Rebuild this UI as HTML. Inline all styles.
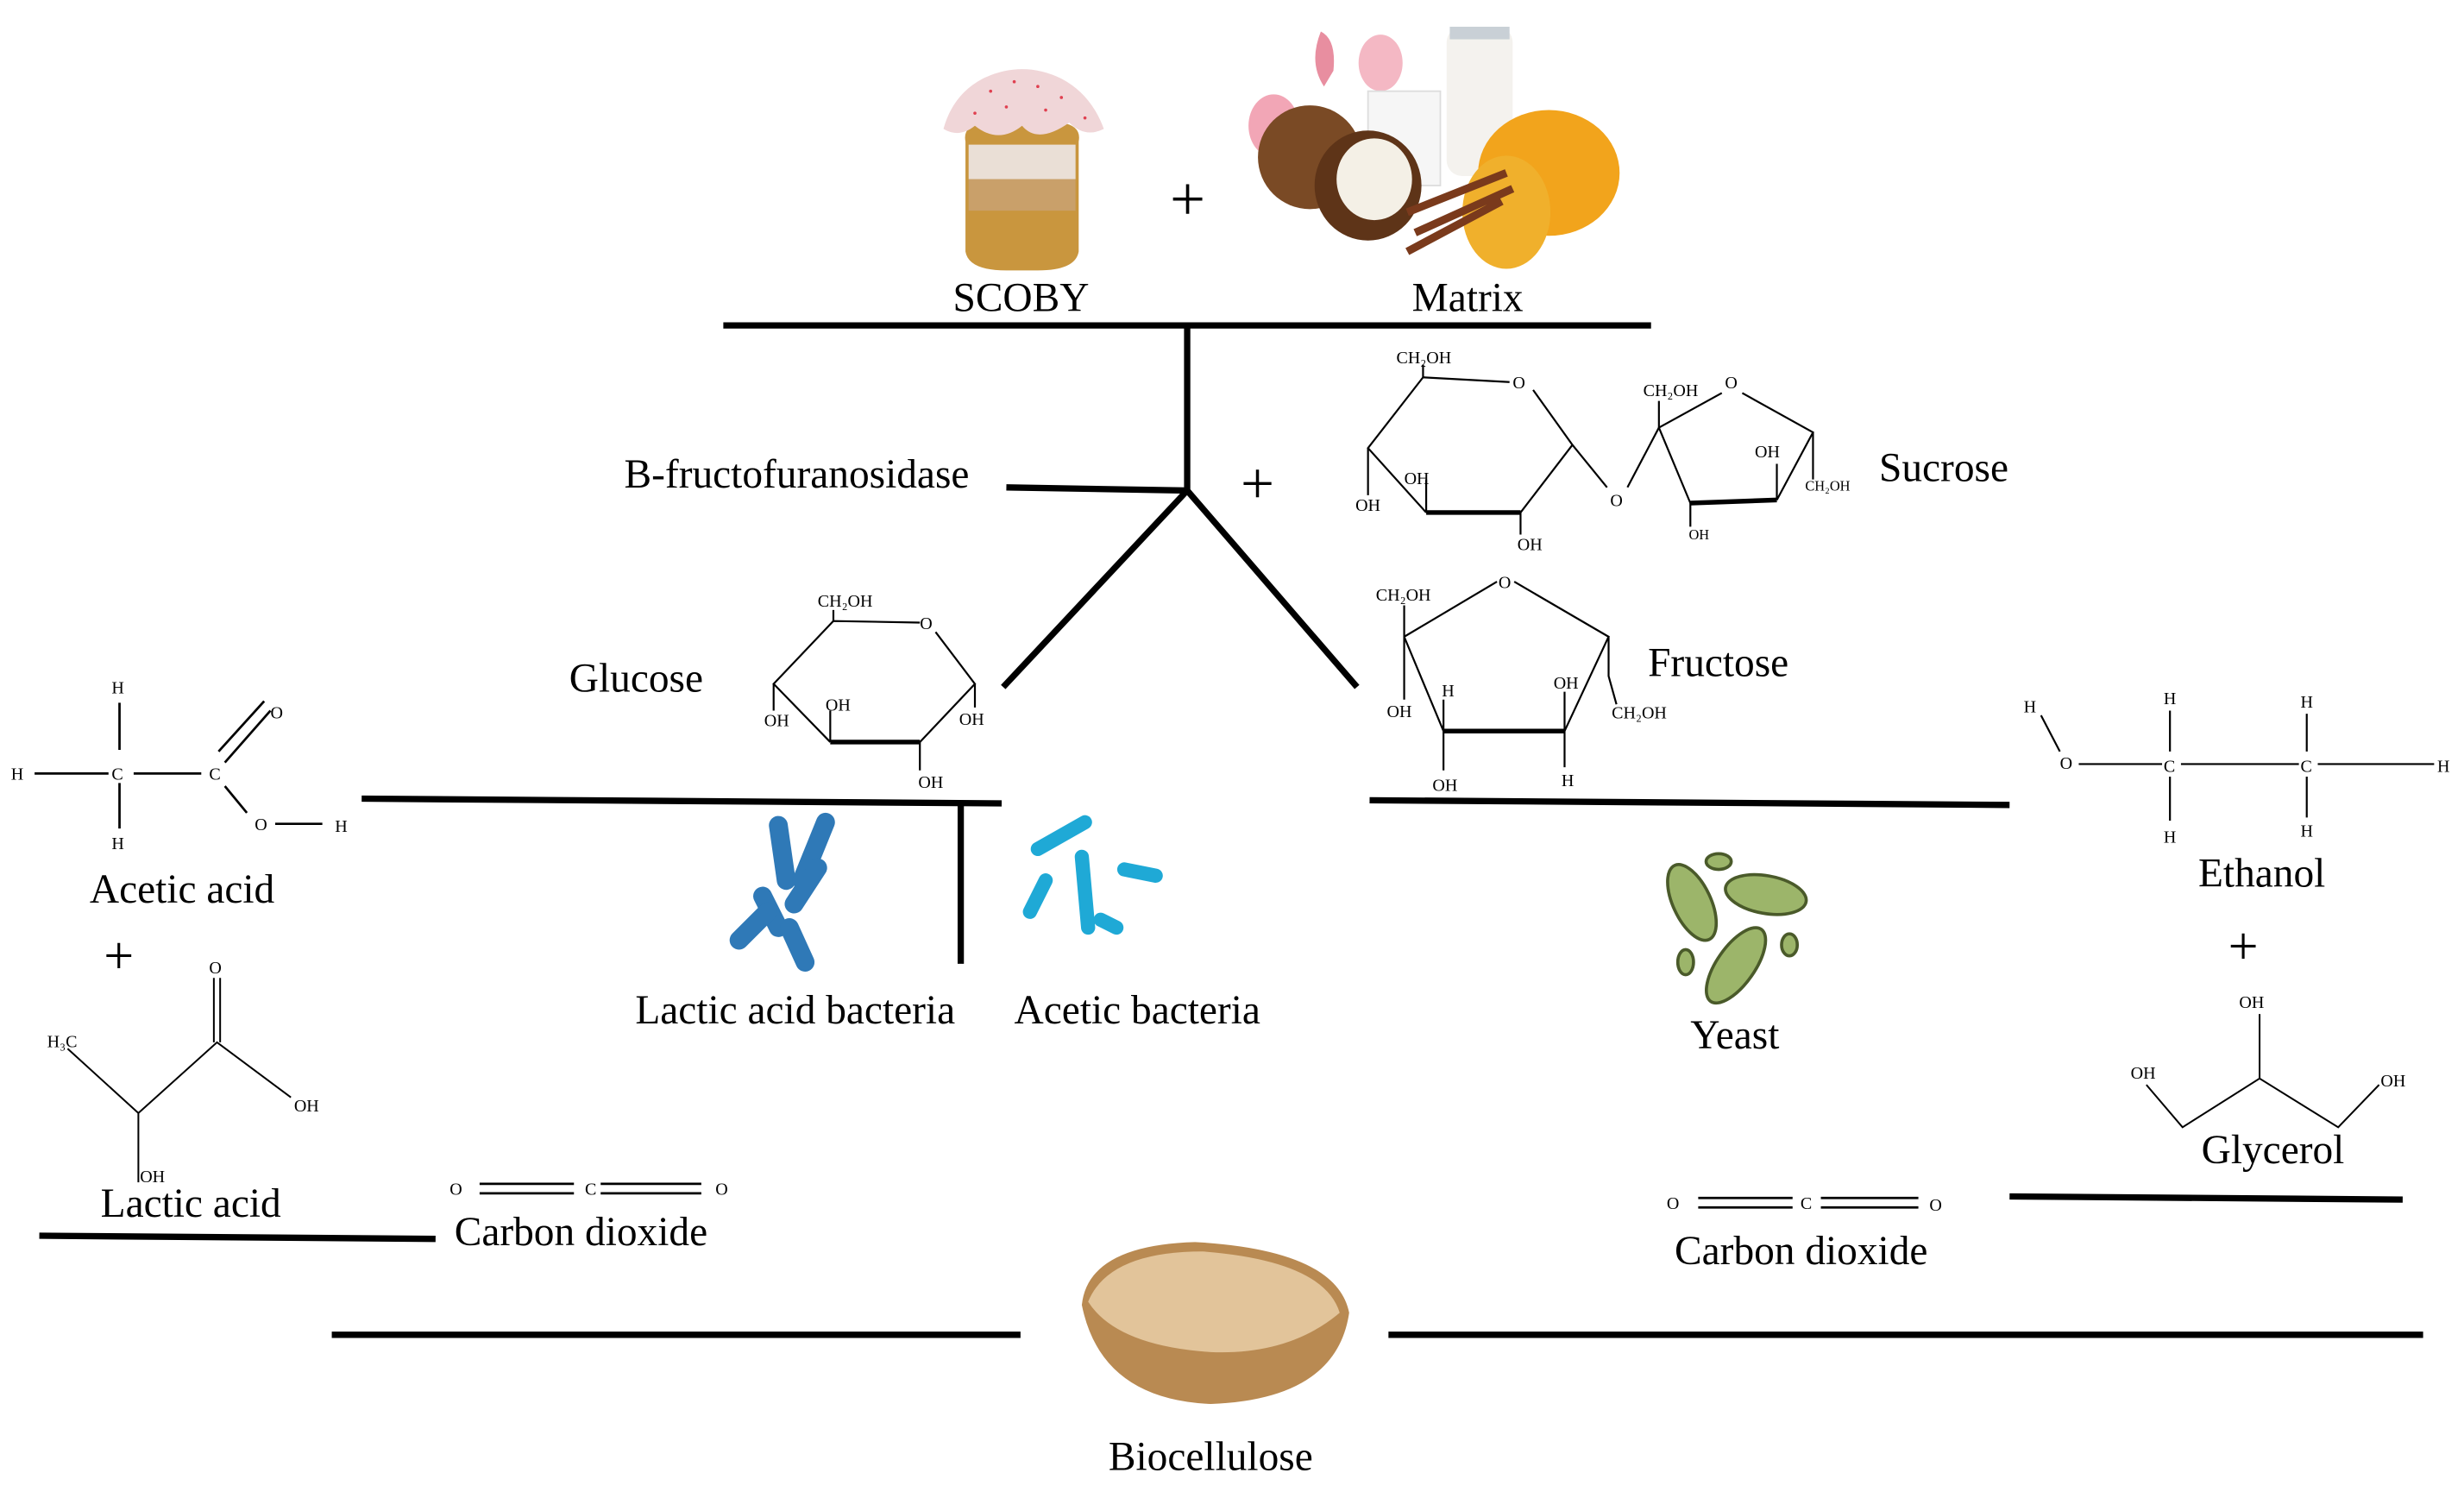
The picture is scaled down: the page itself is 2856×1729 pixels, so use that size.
<!DOCTYPE html>
<html><head><meta charset="utf-8"><style>
html,body{margin:0;padding:0;background:#fff;}
svg{display:block;}
text{font-family:"Liberation Serif",serif;fill:#000;}
.L{font-size:26px;}
.s{font-size:11px;}
</style></head><body>
<svg width="2856" height="1729" viewBox="0 0 1567 949" preserveAspectRatio="none" xmlns="http://www.w3.org/2000/svg">
<rect width="1567" height="949" fill="#fff"/>
<!-- SCOBY jar -->
<path d="M614 90 Q612 80 625 78 H675 Q688 80 686 90 V160 Q684 172 660 172 H640 Q616 172 614 160Z" fill="#c9963e"/>
<rect x="616" y="92" width="68" height="22" fill="#eadfd6"/>
<rect x="616" y="114" width="68" height="20" fill="#c9a06a"/>
<path d="M600 82 Q606 60 625 50 Q650 38 675 50 Q694 60 702 82 Q690 88 680 78 Q660 92 650 80 Q635 92 620 80 Q610 88 600 82Z" fill="#f0d6d8"/>
<g fill="#e04050"><circle cx="630" cy="58" r="1"/><circle cx="645" cy="52" r="1"/><circle cx="660" cy="55" r="1"/><circle cx="675" cy="62" r="1"/><circle cx="620" cy="72" r="1"/><circle cx="640" cy="68" r="1"/><circle cx="665" cy="70" r="1"/><circle cx="690" cy="75" r="1"/></g>
<!-- Matrix -->
<path d="M840 20 Q850 25 848 45 L842 55 Q832 40 840 20Z" fill="#e88ea0"/>
<ellipse cx="878" cy="40" rx="14" ry="18" fill="#f4b8c4"/>
<ellipse cx="810" cy="80" rx="16" ry="20" fill="#f2a6b6"/>
<rect x="920" y="17" width="42" height="95" rx="10" fill="#f4f2ee"/>
<rect x="922" y="17" width="38" height="8" fill="#c9d0d6"/>
<rect x="870" y="58" width="46" height="60" fill="#f6f6f6" stroke="#ddd"/>
<circle cx="833" cy="100" r="33" fill="#7a4a25"/>
<ellipse cx="870" cy="118" rx="34" ry="35" fill="#5e3418"/><ellipse cx="874" cy="114" rx="24" ry="26" fill="#f4f0e6"/>
<ellipse cx="985" cy="110" rx="45" ry="40" fill="#f2a41c"/>
<ellipse cx="958" cy="135" rx="28" ry="36" fill="#f0b02c"/>
<path d="M895 135 L958 110 M900 148 L962 120 M895 160 L955 128" stroke="#7a3a1c" stroke-width="5"/>
<text x="744" y="140" style="font-size:40px">+</text>
<text class="L" x="606" y="198">SCOBY</text>
<text class="L" x="898" y="198">Matrix</text>
<g stroke="#000" stroke-width="4" fill="none">
<line x1="460" y1="207" x2="1050" y2="207"/>
<line x1="755" y1="207" x2="755" y2="312"/>
<line x1="640" y1="310" x2="755" y2="312"/>
<line x1="755" y1="312" x2="638" y2="437"/>
<line x1="755" y1="312" x2="863" y2="437"/>
<line x1="230" y1="508" x2="637" y2="511"/>
<line x1="611" y1="511" x2="611" y2="613"/>
<line x1="871" y1="509" x2="1278" y2="512"/>
<line x1="25" y1="786" x2="277" y2="788"/>
<line x1="1278" y1="761" x2="1528" y2="763"/>
<line x1="211" y1="849" x2="649" y2="849"/>
<line x1="883" y1="849" x2="1541" y2="849"/>
</g>
<text class="L" x="397" y="310">B-fructofuranosidase</text>
<text x="789" y="320" style="font-size:38px">+</text>
<!-- Sucrose -->
<g stroke="#000" stroke-width="1.2" fill="none">
<path d="M905 240 L960 243 M975 248 L1000 283 L967 326 M907 326 L870 285 L905 240"/>
<path d="M907 326 L967 326" stroke-width="3"/>
<path d="M1000 283 L1022 310 M1035 310 L1055 272"/>
<path d="M1055 272 L1095 250 M1108 250 L1153 275 L1130 318 M1075 320 L1055 272"/>
<path d="M1075 320 L1130 318" stroke-width="3"/>
<path d="M905 240 V232 M870 285 V315 M907 326 V305 M967 326 V340 M1153 275 V305 M1075 320 V335 M1055 272 V255 M1130 318 V295"/>
</g>
<text class="s" x="888" y="231">CH₂OH</text><text class="s" x="962" y="247">O</text>
<text class="s" x="862" y="325">OH</text><text class="s" x="893" y="308">OH</text><text class="s" x="965" y="350">OH</text>
<text class="s" x="1024" y="322">O</text><text class="s" x="1045" y="252">CH₂OH</text><text class="s" x="1097" y="247">O</text>
<text class="s" x="1116" y="291">OH</text><text class="s" x="1148" y="312" style="font-size:9px">CH₂OH</text><text class="s" x="1074" y="343" style="font-size:9px">OH</text>
<text class="L" x="1195" y="306">Sucrose</text>
<!-- Glucose -->
<text class="L" x="362" y="440">Glucose</text>
<g stroke="#000" stroke-width="1.2" fill="none">
<path d="M530 395 L585 396 M595 402 L620 435 L585 472 M528 472 L492 435 L530 395"/>
<path d="M528 472 L585 472" stroke-width="3"/>
<path d="M530 395 V388 M492 435 V452 M528 472 V452 M585 472 V490 M620 435 V450"/>
</g>
<text class="s" x="520" y="386">CH₂OH</text><text class="s" x="585" y="400">O</text>
<text class="s" x="486" y="462">OH</text><text class="s" x="525" y="452">OH</text><text class="s" x="610" y="461">OH</text><text class="s" x="584" y="501">OH</text>
<!-- Fructose -->
<g stroke="#000" stroke-width="1.2" fill="none">
<path d="M893 405 L952 370 M963 370 L1023 405 L995 465 M918 465 L893 405"/>
<path d="M918 465 L995 465" stroke-width="3"/>
<path d="M893 405 V385 M893 405 V445 M918 465 V445 M918 465 V490 M995 465 V440 M995 465 V488 M1023 405 V430 L1028 448"/>
</g>
<text class="s" x="875" y="382">CH₂OH</text><text class="s" x="953" y="374">O</text>
<text class="s" x="882" y="456">OH</text><text class="s" x="917" y="443">H</text><text class="s" x="988" y="438">OH</text>
<text class="s" x="1025" y="457">CH₂OH</text><text class="s" x="911" y="503">OH</text><text class="s" x="993" y="500">H</text>
<text class="L" x="1048" y="430">Fructose</text>
<!-- Acetic acid -->
<g stroke="#000" stroke-width="1.5" fill="none">
<path d="M76 447 V477 M76 498 V527 M22 492 H69 M85 492 H128"/>
<path d="M143 485 L172 452 M139 478 L168 446 M143 500 L157 517 M175 524 H205"/>
</g>
<text class="s" x="71" y="441">H</text><text class="s" x="7" y="496">H</text><text class="s" x="71" y="496">C</text>
<text class="s" x="133" y="496">C</text><text class="s" x="172" y="457">O</text><text class="s" x="71" y="540">H</text>
<text class="s" x="162" y="528">O</text><text class="s" x="213" y="529">H</text>
<text class="L" x="57" y="574">Acetic acid</text>
<text x="66" y="619" style="font-size:34px">+</text>
<!-- Lactic acid -->
<g stroke="#000" stroke-width="1.1" fill="none">
<path d="M43 667 L88 708 L138 663 L185 698 M88 708 V752 M136 622 V663 M140 622 V663"/>
</g>
<text class="s" x="133" y="619">O</text><text class="s" x="30" y="666">H₃C</text><text class="s" x="187" y="707">OH</text><text class="s" x="89" y="752">OH</text>
<text class="L" x="64" y="774">Lactic acid</text>
<!-- CO2 left -->
<g stroke="#000" stroke-width="1.5"><path d="M305 753 H365 M305 759 H365 M382 753 H446 M382 759 H446"/></g>
<text class="s" x="286" y="760">O</text><text class="s" x="372" y="760">C</text><text class="s" x="455" y="760">O</text>
<text class="L" x="289" y="792">Carbon dioxide</text>
<!-- bacteria -->
<g stroke="#2f79b7" stroke-width="12" stroke-linecap="round">
<line x1="495" y1="525" x2="500" y2="560"/><line x1="525" y1="523" x2="510" y2="560"/>
<line x1="520" y1="552" x2="505" y2="575"/><line x1="485" y1="570" x2="495" y2="590"/>
<line x1="470" y1="598" x2="488" y2="580"/><line x1="502" y1="590" x2="512" y2="612"/>
</g>
<g stroke="#1fa9d6" stroke-width="9" stroke-linecap="round">
<line x1="660" y1="540" x2="690" y2="523"/><line x1="688" y1="545" x2="692" y2="590"/>
<line x1="655" y1="580" x2="665" y2="560"/><line x1="715" y1="553" x2="735" y2="557"/><line x1="700" y1="585" x2="710" y2="590"/>
</g>
<text class="L" x="404" y="651">Lactic acid bacteria</text>
<text class="L" x="645" y="651">Acetic bacteria</text>
<!-- yeast -->
<g fill="#9cb56a" stroke="#4a5a2a" stroke-width="2">
<ellipse cx="1076" cy="574" rx="12" ry="26" transform="rotate(-25 1076 574)"/>
<ellipse cx="1123" cy="569" rx="26" ry="12" transform="rotate(10 1123 569)"/>
<ellipse cx="1104" cy="614" rx="12" ry="28" transform="rotate(35 1104 614)"/>
<ellipse cx="1093" cy="548" rx="8" ry="5"/><ellipse cx="1072" cy="612" rx="5" ry="8"/><ellipse cx="1138" cy="601" rx="5" ry="7"/>
</g>
<text class="L" x="1075" y="667">Yeast</text>
<!-- Ethanol -->
<g stroke="#000" stroke-width="1.2" fill="none">
<path d="M1298 455 L1310 478 M1322 486 H1375 M1387 486 H1462 M1474 486 H1548 M1380 452 V478 M1380 494 V522 M1467 454 V478 M1467 494 V520"/>
</g>
<text class="s" x="1287" y="453">H</text><text class="s" x="1310" y="489">O</text><text class="s" x="1376" y="448">H</text><text class="s" x="1376" y="491">C</text>
<text class="s" x="1376" y="536">H</text><text class="s" x="1463" y="450">H</text><text class="s" x="1463" y="491">C</text><text class="s" x="1463" y="532">H</text><text class="s" x="1550" y="491">H</text>
<text class="L" x="1398" y="564">Ethanol</text>
<text x="1417" y="613" style="font-size:34px">+</text>
<!-- Glycerol -->
<g stroke="#000" stroke-width="1.1" fill="none"><path d="M1365 690 L1388 717 L1437 686 L1487 717 L1513 690 M1437 686 V645"/></g>
<text class="s" x="1424" y="641">OH</text><text class="s" x="1355" y="686">OH</text><text class="s" x="1514" y="691">OH</text>
<text class="L" x="1400" y="740">Glycerol</text>
<!-- CO2 right -->
<g stroke="#000" stroke-width="1.5"><path d="M1080 762 H1140 M1080 768 H1140 M1158 762 H1220 M1158 768 H1220"/></g>
<text class="s" x="1060" y="769">O</text><text class="s" x="1145" y="769">C</text><text class="s" x="1227" y="770">O</text>
<text class="L" x="1065" y="804">Carbon dioxide</text>
<!-- Biocellulose -->
<path d="M688 830 Q692 792 760 790 Q850 795 858 835 Q850 890 770 893 Q700 890 688 830Z" fill="#b98a52"/>
<path d="M692 828 Q705 796 765 796 Q842 802 852 835 Q820 862 770 860 Q710 856 692 828Z" fill="#e2c49a"/>
<text class="L" x="705" y="935">Biocellulose</text>
</svg>
</body></html>
